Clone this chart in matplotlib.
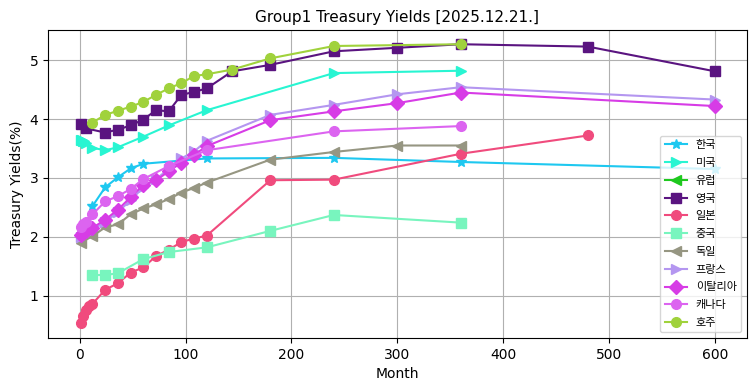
import matplotlib
matplotlib.use("Agg")
import matplotlib.pyplot as plt

plt.rcParams['font.family'] = ['DejaVu Sans', 'Noto Sans CJK KR']

title = "Group1 Treasury Yields [2025.12.21.]"

kr_m = [12, 24, 36, 48, 60, 120, 240, 360, 600]
kr_v = [2.52, 2.84, 3.01, 3.16, 3.24, 3.33, 3.34, 3.27, 3.15]

us_m = [1, 2, 3, 4, 6, 12, 24, 36, 60, 84, 120, 240, 360]
us_v = [3.65, 3.64, 3.62, 3.62, 3.59, 3.51, 3.47, 3.52, 3.70, 3.89, 4.15, 4.78, 4.82]

eu_m = []
eu_v = []

uk_m = [1, 6, 24, 36, 48, 60, 72, 84, 96, 108, 120, 144, 180, 240, 300, 360, 480, 600]
uk_v = [3.91, 3.84, 3.77, 3.82, 3.89, 3.99, 4.15, 4.13, 4.41, 4.46, 4.52, 4.81, 4.92, 5.15, 5.21, 5.27, 5.23, 4.81]

jp_m = [1, 3, 6, 9, 12, 24, 36, 48, 60, 72, 84, 96, 108, 120, 180, 240, 360, 480]
jp_v = [0.53, 0.66, 0.75, 0.82, 0.86, 1.10, 1.21, 1.39, 1.48, 1.67, 1.78, 1.91, 1.97, 2.02, 2.96, 2.97, 3.41, 3.72]

cn_m = [12, 24, 36, 60, 84, 120, 180, 240, 360]
cn_v = [1.35, 1.35, 1.38, 1.62, 1.74, 1.82, 2.10, 2.37, 2.24]

de_m = [1, 12, 24, 36, 48, 60, 72, 84, 96, 108, 120, 180, 240, 300, 360]
de_v = [1.90, 2.01, 2.16, 2.21, 2.38, 2.48, 2.55, 2.64, 2.75, 2.83, 2.92, 3.31, 3.44, 3.55, 3.55]

fr_m = [1, 3, 6, 12, 24, 36, 48, 60, 72, 84, 96, 108, 120, 180, 240, 300, 360, 600]
fr_v = [1.99, 2.02, 2.05, 2.12, 2.25, 2.42, 2.62, 2.84, 2.98, 3.15, 3.33, 3.45, 3.63, 4.07, 4.24, 4.42, 4.54, 4.33]

it_m = [1, 3, 6, 12, 24, 36, 48, 60, 72, 84, 96, 108, 120, 180, 240, 300, 360, 600]
it_v = [2.03, 2.06, 2.10, 2.15, 2.29, 2.46, 2.67, 2.88, 2.96, 3.11, 3.26, 3.39, 3.54, 3.98, 4.13, 4.27, 4.45, 4.22]

ca_m = [1, 3, 6, 12, 24, 36, 48, 60, 84, 120, 240, 360]
ca_v = [2.17, 2.22, 2.25, 2.38, 2.60, 2.69, 2.81, 2.98, 3.20, 3.47, 3.79, 3.88]

au_m = [12, 24, 36, 48, 60, 72, 84, 96, 108, 120, 144, 180, 240, 360]
au_v = [3.94, 4.07, 4.14, 4.21, 4.29, 4.41, 4.52, 4.61, 4.73, 4.76, 4.84, 5.03, 5.24, 5.27]

series = [
    ("한국", kr_m, kr_v, '*', '#1ec8f0'),
    ("미국", us_m, us_v, '>', '#28f5d2'),
    ("유럽", eu_m, eu_v, '<', '#1ec81e'),
    ("영국", uk_m, uk_v, 's', '#5a1480'),
    ("일본", jp_m, jp_v, 'o', '#f04b7d'),
    ("중국", cn_m, cn_v, 's', '#78f5be'),
    ("독일", de_m, de_v, '<', '#969682'),
    ("프랑스", fr_m, fr_v, '>', '#b496f0'),
    ("이탈리아", it_m, it_v, 'D', '#d73ce6'),
    ("캐나다", ca_m, ca_v, 'o', '#dc64f0'),
    ("호주", au_m, au_v, 'o', '#a0d23c'),
]

fig = plt.figure(figsize=(7.55, 3.91), dpi=100)
ax = fig.add_axes([0.0636, 0.1355, 0.9254, 0.7875])

for name, m, v, mk, c in series:
    ax.plot(m, v, marker=mk, color=c, label=name, markersize=7)

ax.set_xlim(-30, 630)
ax.set_ylim(0.28, 5.51)
ax.grid(True)
ax.set_title(title, fontsize=11)
ax.set_xlabel("Month")
ax.set_ylabel("Treasury Yields(%)")
ax.legend(loc='lower right', fontsize=8, labelspacing=0.7)

fig.savefig("out.png", dpi=100)
